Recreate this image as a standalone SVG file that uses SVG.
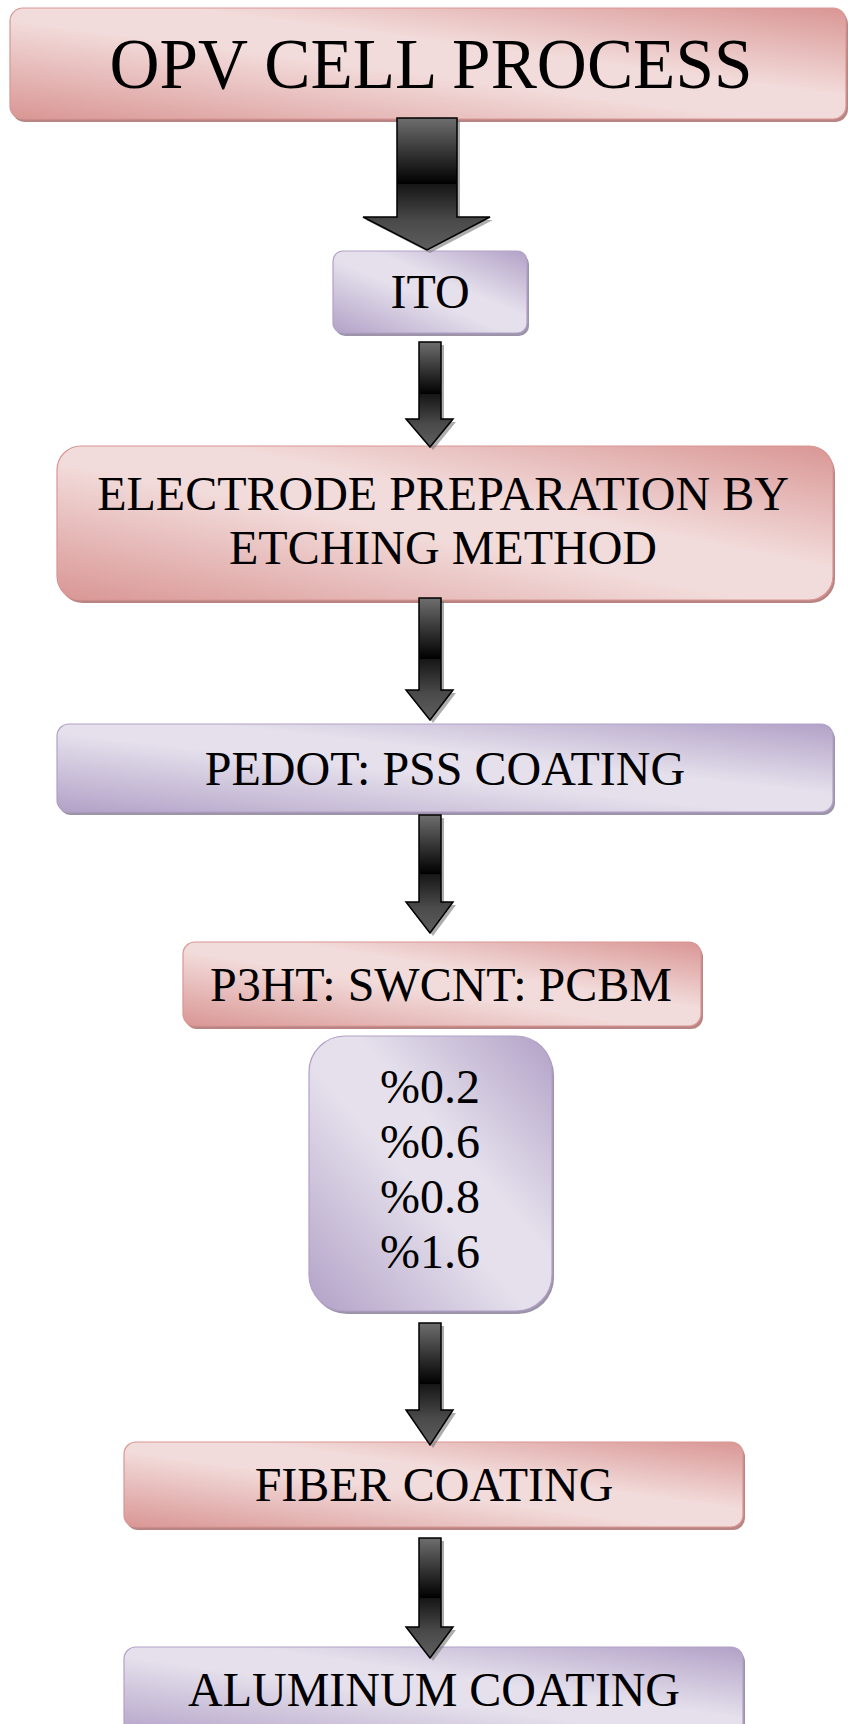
<svg xmlns="http://www.w3.org/2000/svg" width="848" height="1724" viewBox="0 0 848 1724">
  <defs>
    <linearGradient id="pinkG" x1="0" y1="1" x2="1" y2="0">
      <stop offset="0" stop-color="#d99694"/>
      <stop offset="0.45" stop-color="#f2dcdb"/>
      <stop offset="0.6" stop-color="#f2dcdb"/>
      <stop offset="1" stop-color="#d99694"/>
    </linearGradient>
    <linearGradient id="purpG" x1="0" y1="1" x2="1" y2="0">
      <stop offset="0" stop-color="#b2a1c7"/>
      <stop offset="0.45" stop-color="#e5e0ec"/>
      <stop offset="0.6" stop-color="#e5e0ec"/>
      <stop offset="1" stop-color="#b2a1c7"/>
    </linearGradient>
    <linearGradient id="arrG" x1="0" y1="0" x2="0" y2="1">
      <stop offset="0" stop-color="#6e6e6e"/>
      <stop offset="0.5" stop-color="#000000"/>
      <stop offset="0.5" stop-color="#161616"/>
      <stop offset="0.78" stop-color="#4a4a4a"/>
      <stop offset="1" stop-color="#5e5e5e"/>
    </linearGradient>
  </defs>
  <style>
    .pink { fill: url(#pinkG); stroke: #d99694; stroke-width: 1.2; }
    .purp { fill: url(#purpG); stroke: #b2a1c7; stroke-width: 1.2; }
    .pshadow { fill: #b98584; }
    .ushadow { fill: #9e94aa; }
    .lbl { font-family: "Liberation Serif", "Times New Roman", serif; font-size: 48px; fill: #000; text-anchor: middle; }
    .title { font-family: "Liberation Serif", "Times New Roman", serif; font-size: 72px; fill: #000; text-anchor: middle; }
    .arr { fill: url(#arrG); stroke: #000; stroke-width: 1.5; stroke-linejoin: miter; }
    .arrsh { fill: #777; opacity: 0.6; }
  </style>

  <g id="node-title">
    <rect class="pshadow" x="12" y="11" width="836" height="111" rx="13"/>
    <rect class="pink" x="10" y="8" width="836" height="111" rx="13"/>
    <text class="title" x="431" y="88" textLength="643" lengthAdjust="spacingAndGlyphs">OPV CELL PROCESS</text>
  </g>

  <g id="node-ito">
    <rect class="ushadow" x="335" y="254" width="194" height="82" rx="10"/>
    <rect class="purp" x="333" y="251" width="194" height="82" rx="10"/>
    <text class="lbl" x="430" y="308">ITO</text>
  </g>

  <g id="node-electrode">
    <rect class="pshadow" x="59" y="449" width="776" height="154" rx="24"/>
    <rect class="pink" x="57" y="446" width="776" height="154" rx="24"/>
    <text class="lbl" x="443" y="510">ELECTRODE PREPARATION BY</text>
    <text class="lbl" x="443" y="564">ETCHING METHOD</text>
  </g>

  <g id="node-pedot">
    <rect class="ushadow" x="59" y="727" width="776" height="88" rx="12"/>
    <rect class="purp" x="57" y="724" width="776" height="88" rx="12"/>
    <text class="lbl" x="445" y="785">PEDOT: PSS COATING</text>
  </g>

  <g id="node-p3ht">
    <rect class="pshadow" x="185" y="945" width="518" height="84" rx="12"/>
    <rect class="pink" x="183" y="942" width="518" height="84" rx="12"/>
    <text class="lbl" x="441" y="1001">P3HT: SWCNT: PCBM</text>
  </g>

  <g id="node-percent">
    <rect class="ushadow" x="311" y="1039" width="243" height="275" rx="36"/>
    <rect class="purp" x="309" y="1036" width="243" height="275" rx="36"/>
    <text class="lbl" x="430" y="1103">%0.2</text>
    <text class="lbl" x="430" y="1158">%0.6</text>
    <text class="lbl" x="430" y="1213">%0.8</text>
    <text class="lbl" x="430" y="1268">%1.6</text>
  </g>

  <g id="node-fiber">
    <rect class="pshadow" x="126" y="1445" width="619" height="85" rx="12"/>
    <rect class="pink" x="124" y="1442" width="619" height="85" rx="12"/>
    <text class="lbl" x="434" y="1501">FIBER COATING</text>
  </g>

  <g id="node-aluminum">
    <rect class="ushadow" x="126" y="1650" width="619" height="90" rx="12"/>
    <rect class="purp" x="124" y="1647" width="619" height="90" rx="12"/>
    <text class="lbl" x="434" y="1706">ALUMINUM COATING</text>
  </g>

  <g id="connectors">
    <path class="arrsh" d="M400 121 H460 V220 H493 L430 253 L366 220 H400 Z"/>
    <path class="arr" d="M397 118 H457 V217 H490 L427 250 L363 217 H397 Z"/>

    <path class="arrsh" d="M422 345 H444 V422 H456 L433 450 L409 422 H422 Z"/>
    <path class="arr" d="M419 342 H441 V419 H453 L430 447 L406 419 H419 Z"/>

    <path class="arrsh" d="M422 601 H444 V693 H456 L433 723 L409 693 H422 Z"/>
    <path class="arr" d="M419 598 H441 V690 H453 L430 720 L406 690 H419 Z"/>

    <path class="arrsh" d="M422 818 H444 V905 H456 L433 936 L409 905 H422 Z"/>
    <path class="arr" d="M419 815 H441 V902 H453 L430 933 L406 902 H419 Z"/>

    <path class="arrsh" d="M422 1326 H444 V1413 H456 L433 1448 L409 1413 H422 Z"/>
    <path class="arr" d="M419 1323 H441 V1410 H453 L430 1445 L406 1410 H419 Z"/>

    <path class="arrsh" d="M422 1541 H444 V1630 H456 L433 1661 L409 1630 H422 Z"/>
    <path class="arr" d="M419 1538 H441 V1627 H453 L430 1658 L406 1627 H419 Z"/>
  </g>
</svg>
